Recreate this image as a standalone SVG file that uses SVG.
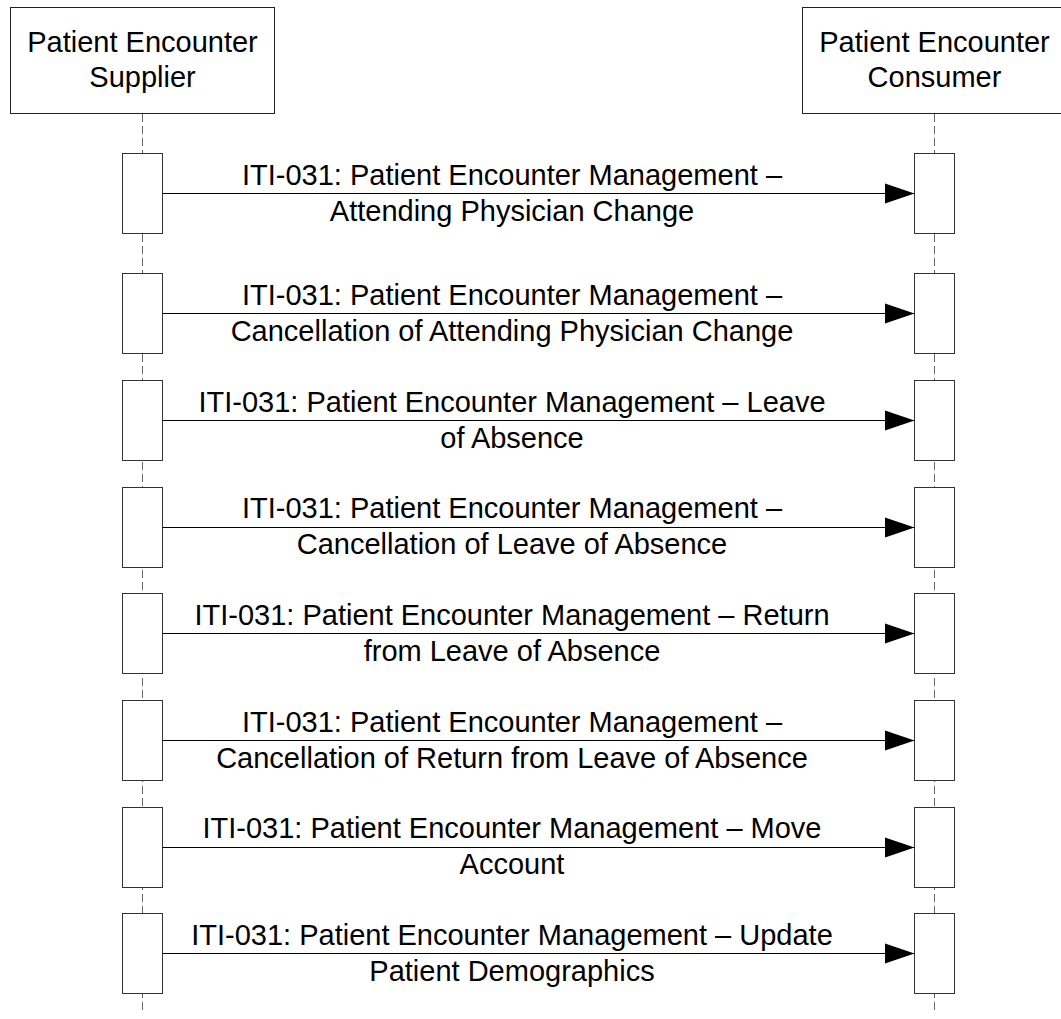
<svg xmlns="http://www.w3.org/2000/svg" width="1061" height="1019" viewBox="0 0 1061 1019">
<defs>
<style>
.hdr{fill:#fff;stroke:#222;stroke-width:1}
.act{fill:#fff;stroke:#333;stroke-width:1}
.life{stroke:#666;stroke-width:1;stroke-dasharray:8,4;fill:none}
.msg{stroke:#000;stroke-width:1;fill:none}
.t{font-family:"Liberation Sans",Arial,sans-serif;font-size:29px;fill:#000;text-anchor:middle}
</style>
<marker id="ah" markerUnits="userSpaceOnUse" markerWidth="30" markerHeight="22" viewBox="0 0 30 22" refX="29.5" refY="11" orient="auto">
<path d="M0,1 L29.5,11 L0,21 Z" fill="#000"/>
</marker>
</defs>
<rect width="1061" height="1019" fill="#fff"/>
<g id="lifelines">
<line class="life" x1="142.5" y1="114" x2="142.5" y2="1012"/>
<line class="life" x1="934.5" y1="114" x2="934.5" y2="1012"/>
</g>
<g id="supplier">
<rect class="hdr" x="10.5" y="7.5" width="264" height="106"/>
<text class="t" x="142.5" y="51.7">Patient Encounter</text>
<text class="t" x="142.5" y="87.3">Supplier</text>
</g>
<g id="consumer">
<rect class="hdr" x="802.5" y="7.5" width="264" height="106"/>
<text class="t" x="934.5" y="51.7">Patient Encounter</text>
<text class="t" x="934.5" y="87.3">Consumer</text>
</g>
<g id="activations">
<rect class="act" x="122.5" y="153.5" width="40" height="80"/>
<rect class="act" x="914.5" y="153.5" width="40" height="80"/>
<rect class="act" x="122.5" y="273.5" width="40" height="80"/>
<rect class="act" x="914.5" y="273.5" width="40" height="80"/>
<rect class="act" x="122.5" y="380.5" width="40" height="80"/>
<rect class="act" x="914.5" y="380.5" width="40" height="80"/>
<rect class="act" x="122.5" y="487.5" width="40" height="80"/>
<rect class="act" x="914.5" y="487.5" width="40" height="80"/>
<rect class="act" x="122.5" y="593.5" width="40" height="80"/>
<rect class="act" x="914.5" y="593.5" width="40" height="80"/>
<rect class="act" x="122.5" y="700.5" width="40" height="80"/>
<rect class="act" x="914.5" y="700.5" width="40" height="80"/>
<rect class="act" x="122.5" y="807.5" width="40" height="80"/>
<rect class="act" x="914.5" y="807.5" width="40" height="80"/>
<rect class="act" x="122.5" y="913.5" width="40" height="80"/>
<rect class="act" x="914.5" y="913.5" width="40" height="80"/>
</g>
<g id="connectors">
<line class="msg" x1="162.5" y1="193.5" x2="914.5" y2="193.5" marker-end="url(#ah)"/>
<line class="msg" x1="162.5" y1="313.5" x2="914.5" y2="313.5" marker-end="url(#ah)"/>
<line class="msg" x1="162.5" y1="420.5" x2="914.5" y2="420.5" marker-end="url(#ah)"/>
<line class="msg" x1="162.5" y1="527.5" x2="914.5" y2="527.5" marker-end="url(#ah)"/>
<line class="msg" x1="162.5" y1="633.5" x2="914.5" y2="633.5" marker-end="url(#ah)"/>
<line class="msg" x1="162.5" y1="740.5" x2="914.5" y2="740.5" marker-end="url(#ah)"/>
<line class="msg" x1="162.5" y1="847.5" x2="914.5" y2="847.5" marker-end="url(#ah)"/>
<line class="msg" x1="162.5" y1="953.5" x2="914.5" y2="953.5" marker-end="url(#ah)"/>
</g>
<g id="labels">
<text class="t" x="512" y="185">ITI-031: Patient Encounter Management –</text>
<text class="t" x="512" y="221">Attending Physician Change</text>
<text class="t" x="512" y="305">ITI-031: Patient Encounter Management –</text>
<text class="t" x="512" y="341">Cancellation of Attending Physician Change</text>
<text class="t" x="512" y="411.7">ITI-031: Patient Encounter Management – Leave</text>
<text class="t" x="512" y="447.7">of Absence</text>
<text class="t" x="512" y="518.3">ITI-031: Patient Encounter Management –</text>
<text class="t" x="512" y="554.3">Cancellation of Leave of Absence</text>
<text class="t" x="512" y="624.5">ITI-031: Patient Encounter Management – Return</text>
<text class="t" x="512" y="660.5">from Leave of Absence</text>
<text class="t" x="512" y="731.5">ITI-031: Patient Encounter Management –</text>
<text class="t" x="512" y="767.5">Cancellation of Return from Leave of Absence</text>
<text class="t" x="512" y="838.3">ITI-031: Patient Encounter Management – Move</text>
<text class="t" x="512" y="874.3">Account</text>
<text class="t" x="512" y="944.5">ITI-031: Patient Encounter Management – Update</text>
<text class="t" x="512" y="980.5">Patient Demographics</text>
</g>
</svg>
